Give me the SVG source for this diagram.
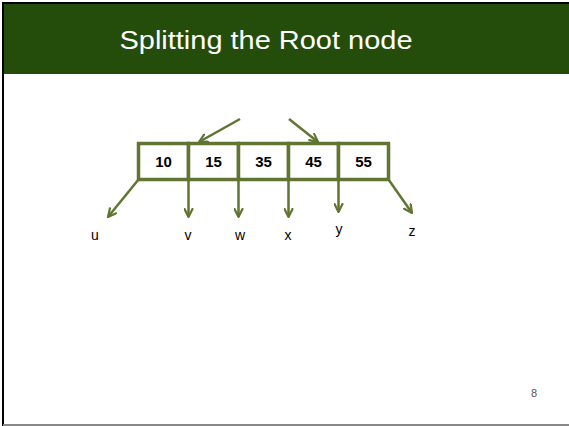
<svg xmlns="http://www.w3.org/2000/svg" width="569" height="426" viewBox="0 0 569 426">
  <defs>
    <marker id="arrow" viewBox="0 0 10 10" refX="9" refY="5" markerWidth="10" markerHeight="10" markerUnits="userSpaceOnUse" orient="auto">
      <polyline points="1,1 9,5 1,9" fill="none" stroke="#5F7531" stroke-width="2.2" stroke-linecap="round" stroke-linejoin="round"/>
    </marker>
    <style>
      .title { font-family: "Liberation Sans", "Open Sans", sans-serif; font-size: 25px; fill: #fff; }
      .cell { fill: #fff; stroke: #5F7531; stroke-width: 3.5; }
      .key { font-family: "Liberation Sans", Arial, sans-serif; font-weight: bold; font-size: 15px; fill: #000; text-anchor: middle; }
      .ptr { fill: none; stroke: #5F7531; stroke-width: 2.5; marker-end: url(#arrow); }
      .lbl { font-family: "Liberation Sans", Arial, sans-serif; font-size: 14px; fill: #000; text-anchor: middle; }
      .page { font-family: "Liberation Sans", Arial, sans-serif; font-size: 11px; fill: #555; text-anchor: middle; }
    </style>
  </defs>

  <rect x="0" y="0" width="569" height="426" fill="#fff"/>

  <!-- slide header -->
  <g id="header">
    <rect x="4" y="4" width="565" height="70" fill="#244D0C"/>
    <text class="title" x="266" y="49" text-anchor="middle" textLength="293" lengthAdjust="spacingAndGlyphs">Splitting the Root node</text>
  </g>

  <!-- slide frame -->
  <line x1="3" y1="3" x2="569" y2="3" stroke="#000" stroke-width="2"/>
  <line x1="3" y1="2" x2="3" y2="426" stroke="#000" stroke-width="2"/>
  <line x1="3" y1="425" x2="569" y2="425" stroke="#888" stroke-width="2"/>

  <!-- root node: five keys -->
  <g id="root-node">
    <rect class="cell" x="138.5" y="143.5" width="50" height="36"/>
    <rect class="cell" x="188.5" y="143.5" width="50" height="36"/>
    <rect class="cell" x="238.5" y="143.5" width="50" height="36"/>
    <rect class="cell" x="288.5" y="143.5" width="50" height="36"/>
    <rect class="cell" x="338.5" y="143.5" width="50" height="36"/>
    <text class="key" x="163.5" y="167">10</text>
    <text class="key" x="213.5" y="167">15</text>
    <text class="key" x="263.5" y="167">35</text>
    <text class="key" x="313.5" y="167">45</text>
    <text class="key" x="363.5" y="167">55</text>
  </g>

  <!-- pointers into and out of the node -->
  <g id="connectors">
    <line class="ptr" x1="240" y1="119" x2="199" y2="142"/>
    <line class="ptr" x1="289" y1="119" x2="318" y2="142"/>
    <line class="ptr" x1="138.5" y1="179.5" x2="108" y2="217"/>
    <line class="ptr" x1="188.5" y1="179.5" x2="188.5" y2="217"/>
    <line class="ptr" x1="238.5" y1="179.5" x2="238.5" y2="217"/>
    <line class="ptr" x1="288.5" y1="179.5" x2="288.5" y2="217"/>
    <line class="ptr" x1="338.5" y1="179.5" x2="338.5" y2="212"/>
    <line class="ptr" x1="388.5" y1="179.5" x2="412" y2="213"/>
  </g>

  <!-- subtree labels -->
  <g id="labels">
    <text class="lbl" x="95" y="240">u</text>
    <text class="lbl" x="188" y="240">v</text>
    <text class="lbl" x="240" y="240">w</text>
    <text class="lbl" x="288" y="240">x</text>
    <text class="lbl" x="339" y="234">y</text>
    <text class="lbl" x="412" y="236">z</text>
  </g>

  <text class="page" x="534" y="397">8</text>
</svg>
